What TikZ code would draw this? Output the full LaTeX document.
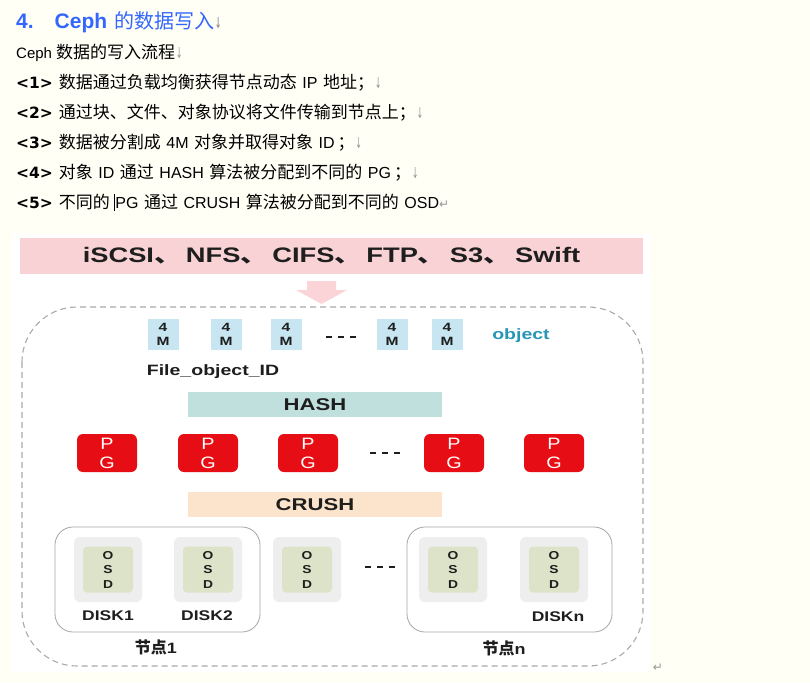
\documentclass[tikz,border=0pt]{standalone}
\usepackage{fontspec}
\usepackage{graphicx}
\setmainfont{Liberation Sans}
\newfontfamily\cjk{Noto Sans CJK SC}
\newfontfamily\dv{DejaVu Sans}
\newcommand\FS[1]{\fontsize{#1}{#1}\selectfont}
\newcommand\Cj[1]{{\cjk\FS{17}#1}}
\newcommand\La[1]{{\FS{16}#1}}
\newcommand\Nb[1]{{\dv\bfseries\FS{15.5}#1}}
\newcommand\Darr{\hspace{1pt}{\dv\FS{15}\color{markgray}\scalebox{0.5}[1]{↓}}}
\newcommand\Ret{{\dv\FS{12}\color{markgray}↵}}
\newcommand\Wd[1]{\scalebox{1.3}[1]{#1}}
\newcommand\SPC{\hspace{5.5pt}}
\definecolor{pagebg}{RGB}{255,255,246}
\definecolor{headblue}{RGB}{51,102,255}
\definecolor{markgray}{RGB}{150,150,150}
\definecolor{bannerpink}{RGB}{249,210,213}
\definecolor{arrowpink}{RGB}{250,212,214}
\definecolor{objblue}{RGB}{200,230,242}
\definecolor{hashteal}{RGB}{191,224,220}
\definecolor{crushpeach}{RGB}{251,228,203}
\definecolor{pgred}{RGB}{230,14,20}
\definecolor{osdouter}{RGB}{238,238,238}
\definecolor{osdinner}{RGB}{221,227,200}
\definecolor{groupgray}{RGB}{165,165,165}
\definecolor{dashgray}{RGB}{170,170,170}
\definecolor{objteal}{RGB}{40,150,180}
\definecolor{darktxt}{RGB}{30,30,30}
\begin{document}
\begin{tikzpicture}[x=1pt,y=-1pt,
  txt/.style={anchor=base west, inner sep=0},
  objbox/.style={fill=objblue, minimum width=31pt, minimum height=31pt, inner sep=0, align=center, text=darktxt, font={\bfseries\fontsize{12}{14}\selectfont}},
  pgbox/.style={fill=pgred, rounded corners=6pt, minimum width=60pt, minimum height=38pt, inner sep=0, align=center, text=white, font={\fontsize{16.5}{19}\selectfont}},
  osdout/.style={fill=osdouter, rounded corners=6pt, minimum width=68pt, minimum height=65pt, inner sep=0},
  osdin/.style={fill=osdinner, rounded corners=4pt, minimum width=50pt, minimum height=46pt, inner sep=0, align=center, text=darktxt, font={\bfseries\fontsize{11.5}{14.5}\selectfont}},
  group/.style={draw=groupgray, line width=0.8pt, rounded corners=18pt, minimum width=205pt, minimum height=105pt, fill=white, inner sep=0},
  bar/.style={minimum width=254pt, minimum height=25pt, inner sep=0, text=darktxt, font={\bfseries\FS{17}}},
  lbl/.style={inner sep=0, text=darktxt, font={\bfseries\FS{14}}},
  dots/.style={fill=darktxt}
]
\fill[pagebg] (0,0) rectangle (810,683);
\useasboundingbox (0,0) rectangle (810,683);

% text lines
\node[txt] (head) at (16,28) {\color{headblue}\bfseries\FS{21}4.\hspace{21pt}Ceph\hspace{7pt}{\cjk\mdseries\FS{20}的数据写入}\Darr};
\node[txt] (l0) at (16,58) {{\FS{15}Ceph}\hspace{4pt}\Cj{数据的写入流程}\Darr};
\node[txt] (l1) at (16,88) {\Nb{<1>}\hspace{6pt}\Cj{数据通过负载均衡获得节点动态}\SPC\La{IP}\SPC\Cj{地址；}\Darr};
\node[txt] (l2) at (16,118) {\Nb{<2>}\hspace{6pt}\Cj{通过块、文件、对象协议将文件传输到节点上；}\Darr};
\node[txt] (l3) at (16,148) {\Nb{<3>}\hspace{6pt}\Cj{数据被分割成}\SPC\La{4M}\SPC\Cj{对象并取得对象}\SPC\La{ID}\hspace{3pt}\Cj{；}\Darr};
\node[txt] (l4) at (16,178) {\Nb{<4>}\hspace{6pt}\Cj{对象}\SPC\La{ID}\SPC\Cj{通过}\SPC\La{HASH}\SPC\Cj{算法被分配到不同的}\SPC\La{PG}\hspace{3pt}\Cj{；}\Darr};
\node[txt] (l5) at (16,208) {\Nb{<5>}\hspace{6pt}\Cj{不同的}\SPC\rlap{\hspace{-1pt}\rule[-3pt]{0.8pt}{17pt}}\La{PG}\SPC\Cj{通过}\SPC\La{CRUSH}\SPC\Cj{算法被分配到不同的}\SPC\La{OSD}\Ret};

% diagram image area
\fill[white] (12,234) rectangle (650,672);
\node[fill=bannerpink, minimum width=623pt, minimum height=36pt, inner sep=0, text=darktxt, font={\bfseries\FS{21}}] (proto) at (331.5,256)
  {\Wd{iSCSI{\cjk 、}\,NFS{\cjk 、}\,CIFS{\cjk 、}\,FTP{\cjk 、}\,S3{\cjk 、}\,Swift}};
\fill[arrowpink] (307,281) -- (336,281) -- (336,290) -- (347,290) -- (321.5,304) -- (296,290) -- (307,290) -- cycle;
\draw[dashgray, line width=1.1pt, dash pattern=on 6pt off 4pt, rounded corners=55pt] (22,307) rectangle (643,666);

% objects
\foreach \x/\n in {163/o1,226/o2,286/o3,392/o4,447/o5}
  \node[objbox] (\n) at (\x,334) {\Wd{4}\\\Wd{M}};
\foreach \x in {326,338,350} \fill[dots] (\x,336) rectangle +(6,2.4);
\node[inner sep=0, text=objteal, font={\bfseries\FS{15}}] (objlbl) at (521,336) {\Wd{object}};
\node[inner sep=0, text=darktxt, font={\bfseries\FS{15}}] (fid) at (213,372) {\Wd{File\_object\_ID}};

\node[bar, fill=hashteal] (hash) at (315,404.5) {\Wd{HASH}};

% PGs
\foreach \x/\n in {107/p1,208/p2,308/p3,454/p4,554/p5}
  \node[pgbox] (\n) at (\x,453) {\scalebox{1.2}[1]{P}\\\scalebox{1.2}[1]{G}};
\foreach \x in {370,382,394} \fill[dots] (\x,452) rectangle +(6,2.4);

\node[bar, fill=crushpeach] (crush) at (315,504.5) {\Wd{CRUSH}};

% nodes
\node[group] (n1) at (157.5,579.5) {};
\node[group] (nn) at (509.5,579.5) {};
\foreach \x/\n in {108/d1,208/d2,307/d3,453/d4,554/d5}{
  \node[osdout] (\n out) at (\x,569.5) {};
  \node[osdin] (\n) at (\x,569.5) {\scalebox{1.2}[1]{O}\\\scalebox{1.2}[1]{S}\\\scalebox{1.2}[1]{D}};
}
\foreach \x in {365,377,389} \fill[dots] (\x,566) rectangle +(6,2.4);
\node[lbl] (disk1) at (108,616) {\scalebox{1.25}[1]{DISK1}};
\node[lbl] (disk2) at (207,616) {\scalebox{1.25}[1]{DISK2}};
\node[lbl] (diskn) at (558,617) {\scalebox{1.25}[1]{DISKn}};
\node[lbl] (node1) at (156,647) {{\cjk\bfseries\FS{16}节点}\scalebox{1.2}[1]{\FS{15}1}};
\node[lbl] (noden) at (504,648) {{\cjk\bfseries\FS{16}节点}\scalebox{1.2}[1]{\FS{15}n}};

\node[inner sep=0] (endret) at (658,668) {\Ret};
\end{tikzpicture}
\end{document}
